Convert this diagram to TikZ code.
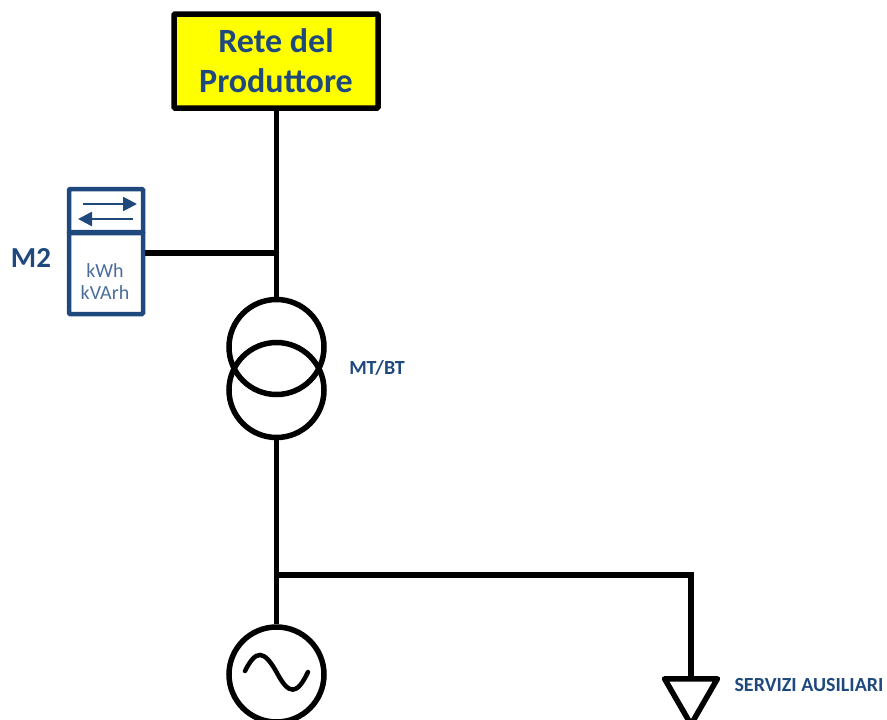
\documentclass[tikz,border=0pt]{standalone}
\usepackage{fontspec}
\setmainfont{Carlito}
\usepackage{xcolor}
\usetikzlibrary{arrows.meta, positioning, shapes.geometric}
\definecolor{blueText}{HTML}{1F497D}
\definecolor{blueSoft}{HTML}{4A6D9C}
\definecolor{reteFill}{RGB}{255,255,0}
\tikzset{
  wire/.style={line width=5.5pt},
  winding/.style={circle, draw, line width=5.5pt, inner sep=0pt, minimum size=95pt},
  meterbox/.style={draw=blueText, line width=4.5pt, rounded corners=1pt, inner sep=0pt, minimum width=74pt},
  flow/.style={draw=blueText, line width=2.6pt, -{Triangle[length=14pt,width=14pt]}},
  label/.style={text=blueText, font=\bfseries\fontsize{20}{24}\selectfont}
}
\begin{document}
\begin{tikzpicture}[x=1pt, y=-1pt]
\useasboundingbox[clip] (0,0) rectangle (887,720);
% Network box
\node[draw, line width=5.5pt, rounded corners=1pt, fill=reteFill, minimum width=204pt, minimum height=94pt, align=center, text=blueText, font=\bfseries\fontsize{34}{40}\selectfont] (rete) at (276,61) {Rete del\\Produttore};

% Meter
\node[meterbox, minimum height=44pt] (meterT) at (106,211) {};
\node[meterbox, minimum height=82pt] (meterB) at (106,273) {};
\node[text=blueSoft, font=\fontsize{20}{22}\selectfont, align=center] (meterU) at (105,282) {kWh\\kVArh};
\node[text=blueText, font=\bfseries\fontsize{29}{30}\selectfont] (mdue) at (31,258) {M2};
\coordinate (arrAs) at (83,204);
\coordinate (arrAe) at (137,204);
\coordinate (arrBs) at (133,219);
\coordinate (arrBe) at (78,219);
\draw[flow] (arrAs) -- (arrAe);
\draw[flow] (arrBs) -- (arrBe);

% Transformer
\node[winding] (trafoA) at (276.5,347) {};
\node[winding] (trafoB) at (276.5,390) {};
\node[label] (trafoL) at (377,368) {MT/BT};

% Generator
\node[winding] (gen) at (276.5,674.5) {};
\coordinate (sineA) at (245,671);
\coordinate (sineB) at (308,672);
\draw[line width=4.5pt, line cap=round] (sineA) .. controls (256,649) and (264,650) .. (276.5,672) .. controls (289,696) and (297,695) .. (sineB);

% Load
\node[regular polygon, regular polygon sides=3, shape border rotate=180, draw, line width=5.5pt, line join=round, inner sep=0pt, minimum size=61pt] (load) at (691,694) {};
\node[label, anchor=west] (loadL) at (731,685) {SERVIZI AUSILIARI};

% Connections
\coordinate (jMeter) at (276.5,253);
\coordinate (jLoad) at (276.5,575);
\coordinate (cLoad) at (691,575);
\draw[wire] (rete.south -| trafoA) -- (trafoA.north);
\draw[wire] (meterB.east |- jMeter) -- (jMeter);
\draw[wire] (trafoB.south) -- (gen.north);
\draw[wire] (jLoad) -- (cLoad) -- (cLoad |- load.north);
\end{tikzpicture}
\end{document}
